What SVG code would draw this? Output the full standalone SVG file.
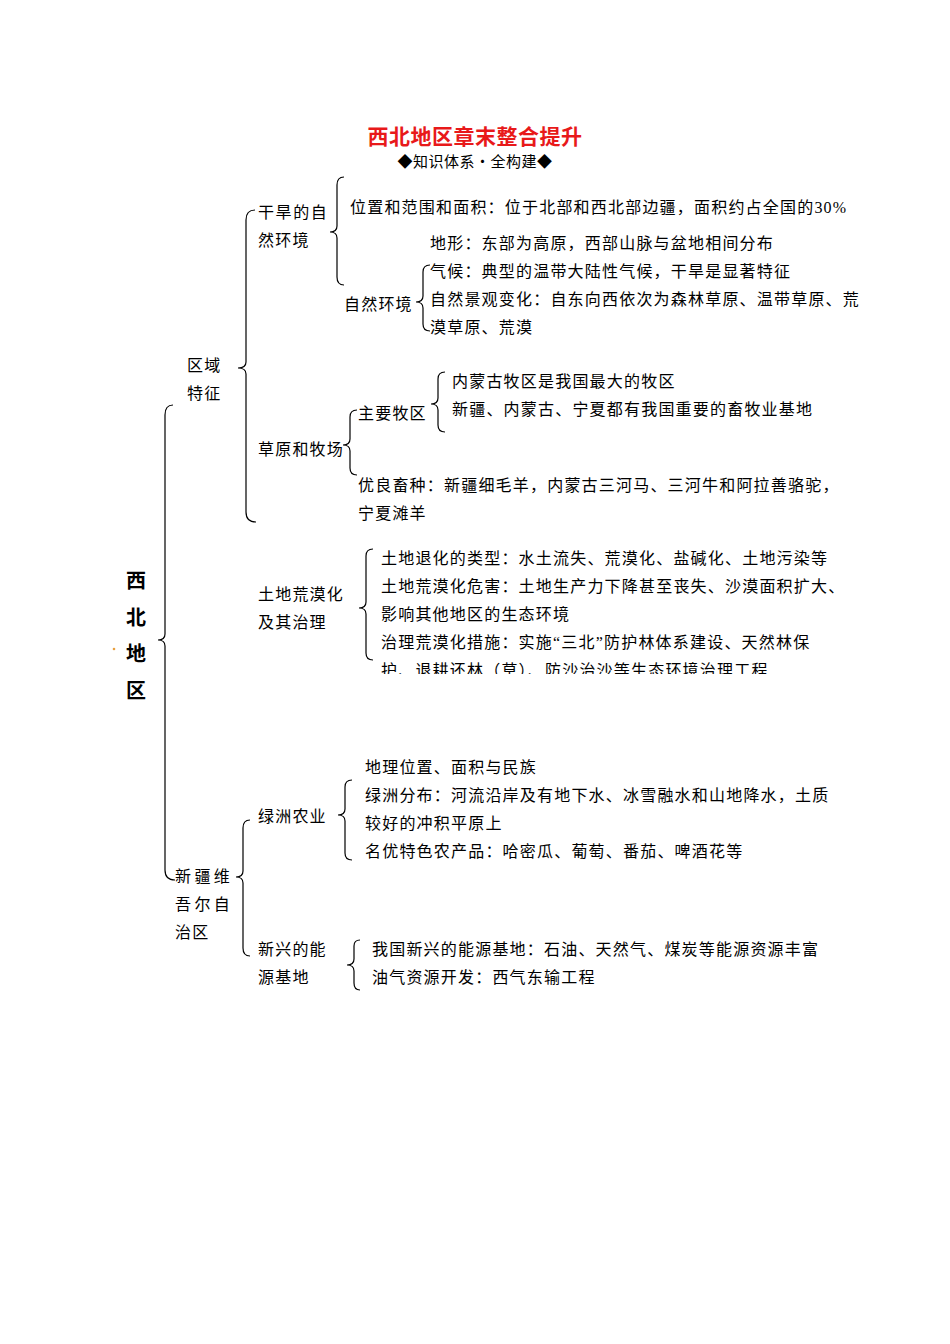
<svg xmlns="http://www.w3.org/2000/svg" width="950" height="1344" viewBox="0 0 950 1344">
<style>
text{font-family:"Liberation Serif","Noto Sans CJK SC",serif;font-size:16px;fill:#000;letter-spacing:1.2px}
.b{fill:none;stroke:#000;stroke-width:1.2}
</style>
<defs><clipPath id="c"><rect x="370" y="540" width="500" height="134"/></clipPath></defs>
<rect width="950" height="1344" fill="#fff"/>
<text x="475" y="144" text-anchor="middle" style="font-size:21px;font-weight:bold;fill:#e8191a;letter-spacing:0.5px">西北地区章末整合提升</text>
<text x="475" y="167" text-anchor="middle" style="font-size:15px;letter-spacing:0.5px">◆知识体系・全构建◆</text>
<g id="connectors">
<path class="b" d="M173,405 Q165,405 165,415 L165,634 Q165,640 158,640 Q165,640 165,646 L165,870 Q165,880 175,880"/>
<path class="b" d="M255,210 Q246,210 246,220 L246,362 Q246,368 238,368 Q246,368 246,374 L246,512 Q246,522 256,522"/>
<path class="b" d="M344,177 Q337,177 337,185 L337,226 Q337,232 330,232 Q337,232 337,238 L337,277 Q337,285 344,285"/>
<path class="b" d="M430,265 Q423,265 423,272 L423,296 Q423,302 416,302 Q423,302 423,308 L423,324 Q423,331 430,331"/>
<path class="b" d="M357,410 Q350,410 350,417 L350,439 Q350,445 343,445 Q350,445 350,451 L350,468 Q350,475 357,475"/>
<path class="b" d="M445,372 Q438,372 438,379 L438,398 Q438,404 431,404 Q438,404 438,410 L438,425 Q438,432 445,432"/>
<path class="b" d="M373,549 Q366,549 366,556 L366,602 Q366,608 359,608 Q366,608 366,614 L366,653 Q366,660 373,660"/>
<path class="b" d="M250,820 Q243,820 243,828 L243,871 Q243,877 236,877 Q243,877 243,883 L243,948 Q243,956 250,956"/>
<path class="b" d="M352,780 Q345,780 345,787 L345,809 Q345,815 338,815 Q345,815 345,821 L345,853 Q345,860 352,860"/>
<path class="b" d="M360,940 Q354,940 354,946 L354,959 Q354,965 347,965 Q354,965 354,971 L354,983 Q354,990 360,990"/>
</g>
<g id="root">
<text x="136" y="588" text-anchor="middle" style="font-size:20px;font-weight:bold;letter-spacing:0">西</text>
<text x="136" y="625" text-anchor="middle" style="font-size:20px;font-weight:bold;letter-spacing:0">北</text>
<text x="136" y="661" text-anchor="middle" style="font-size:20px;font-weight:bold;letter-spacing:0">地</text>
<text x="136" y="698" text-anchor="middle" style="font-size:20px;font-weight:bold;letter-spacing:0">区</text>
<circle cx="114" cy="649" r="1.3" fill="#e8a040"/>
</g>
<g id="region"><text x="187" y="371">区域</text><text x="187" y="399">特征</text></g>
<g id="dry"><text x="258" y="218" textLength="70">干旱的自</text><text x="258" y="246">然环境</text></g>
<g id="dry1"><text x="350" y="213">位置和范围和面积：位于北部和西北部边疆，面积约占全国的30%</text></g>
<g id="nat"><text x="344" y="310">自然环境</text></g>
<g id="nat1"><text x="430" y="249">地形：东部为高原，西部山脉与盆地相间分布</text>
<text x="430" y="277">气候：典型的温带大陆性气候，干旱是显著特征</text>
<text x="430" y="305">自然景观变化：自东向西依次为森林草原、温带草原、荒</text>
<text x="430" y="333">漠草原、荒漠</text></g>
<g id="grass"><text x="258" y="455">草原和牧场</text></g>
<g id="pasture"><text x="358" y="419">主要牧区</text></g>
<g id="pasture1"><text x="452" y="387">内蒙古牧区是我国最大的牧区</text><text x="452" y="415">新疆、内蒙古、宁夏都有我国重要的畜牧业基地</text></g>
<g id="breed"><text x="358" y="491">优良畜种：新疆细毛羊，内蒙古三河马、三河牛和阿拉善骆驼，</text><text x="358" y="519">宁夏滩羊</text></g>
<g id="desert"><text x="258" y="600">土地荒漠化</text><text x="258" y="628">及其治理</text></g>
<g id="desert1" clip-path="url(#c)">
<text x="381" y="564">土地退化的类型：水土流失、荒漠化、盐碱化、土地污染等</text>
<text x="381" y="592">土地荒漠化危害：土地生产力下降甚至丧失、沙漠面积扩大、</text>
<text x="381" y="620">影响其他地区的生态环境</text>
<text x="381" y="648">治理荒漠化措施：实施“三北”防护林体系建设、天然林保</text>
<text x="381" y="676">护、退耕还林（草）、防沙治沙等生态环境治理工程</text>
</g>
<g id="xinjiang"><text x="175" y="882" textLength="56">新疆维</text><text x="175" y="910" textLength="56">吾尔自</text><text x="175" y="938">治区</text></g>
<g id="oasis"><text x="258" y="822">绿洲农业</text></g>
<g id="oasis1"><text x="365" y="773">地理位置、面积与民族</text>
<text x="365" y="801">绿洲分布：河流沿岸及有地下水、冰雪融水和山地降水，土质</text>
<text x="365" y="829">较好的冲积平原上</text>
<text x="365" y="857">名优特色农产品：哈密瓜、葡萄、番茄、啤酒花等</text></g>
<g id="energy"><text x="258" y="955">新兴的能</text><text x="258" y="983">源基地</text></g>
<g id="energy1"><text x="372" y="955">我国新兴的能源基地：石油、天然气、煤炭等能源资源丰富</text><text x="372" y="983">油气资源开发：西气东输工程</text></g>
</svg>
